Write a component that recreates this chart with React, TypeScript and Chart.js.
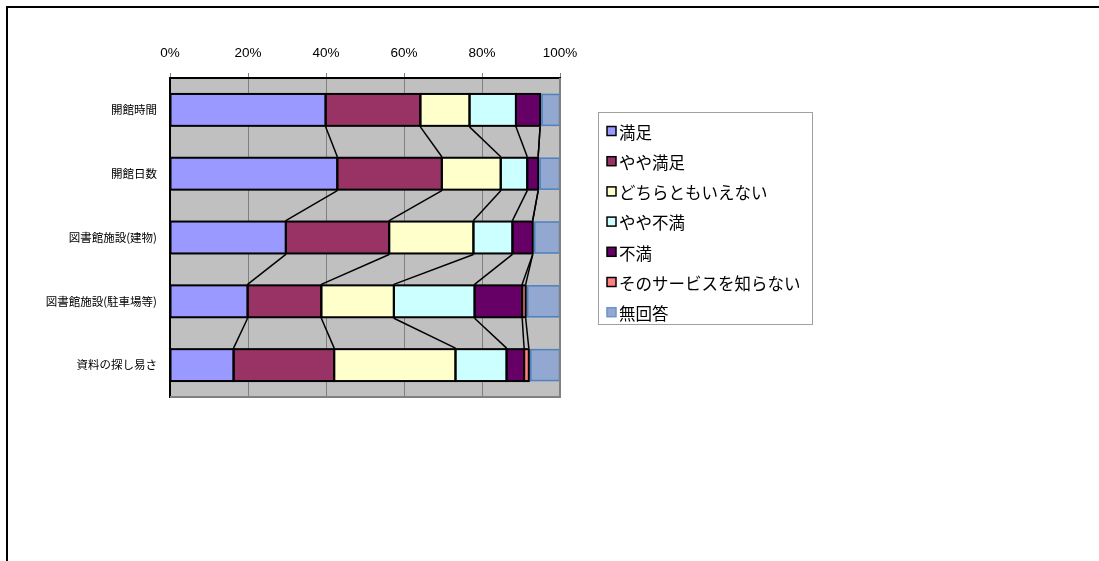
import React, { useEffect, useRef } from "react";
import { Chart, registerables } from "chart.js";

Chart.register(...registerables);

const categories = ["開館時間", "開館日数", "図書館施設(建物)", "図書館施設(駐車場等)", "資料の探し易さ"];
const seriesNames = ["満足", "やや満足", "どちらともいえない", "やや不満", "不満", "そのサービスを知らない", "無回答"];
const manzoku = [39.9, 42.9, 29.7, 19.9, 16.3];
const yayaManzoku = [24.3, 26.8, 26.5, 18.9, 25.8];
const dochira = [12.6, 15.1, 21.6, 18.6, 31.1];
const yayaFuman = [11.9, 6.8, 10.0, 20.7, 13.1];
const fuman = [6.2, 2.8, 5.2, 12.2, 4.5];
const shiranai = [0, 0, 0, 0.9, 1.2];
const mukaitou = [5.1, 5.6, 7.0, 8.8, 8.0];
const tickValues = [0, 20, 40, 60, 80, 100];

const seriesValues = [manzoku, yayaManzoku, dochira, yayaFuman, fuman, shiranai, mukaitou];
const fillColors = ["#9999FF", "#993366", "#FFFFCC", "#CCFFFF", "#660066", "#FF8080", "#93A8D0"];
const strokeColors = ["#000000", "#000000", "#000000", "#000000", "#000000", "#000000", "#4F81BD"];

const jpFont = "'Noto Sans CJK JP', 'Noto Sans', sans-serif";

const decorPlugin = {
  id: "decor",
  beforeDraw(chart: any) {
    const { ctx, chartArea } = chart;
    ctx.save();
    ctx.fillStyle = "#ffffff";
    ctx.fillRect(0, 0, chart.width, chart.height);
    ctx.fillStyle = "#C0C0C0";
    ctx.fillRect(chartArea.left, chartArea.top, chartArea.right - chartArea.left, chartArea.bottom - chartArea.top);
    ctx.restore();
  },
  afterDatasetsDraw(chart: any) {
    const { ctx, chartArea } = chart;
    ctx.save();
    const n = chart.data.datasets.length;
    for (let d = 0; d < n; d++) {
      const meta = chart.getDatasetMeta(d);
      meta.data.forEach((el: any) => {
        const l = Math.min(el.base, el.x);
        const r = Math.max(el.base, el.x);
        if (r - l < 0.01) return;
        const t = el.y - el.height / 2;
        const b = el.y + el.height / 2;
        if (d === n - 1) {
          ctx.strokeStyle = strokeColors[d];
          ctx.lineWidth = 1.5;
          ctx.strokeRect(l + 2, t + 0.5, r - l - 2.5, b - t - 1);
        } else {
          ctx.strokeStyle = strokeColors[d];
          ctx.lineWidth = 2;
          ctx.strokeRect(l, t, r - l, b - t);
        }
      });
    }
    ctx.strokeStyle = "#000000";
    ctx.lineWidth = 1.5;
    for (let d = 0; d < n - 1; d++) {
      const meta = chart.getDatasetMeta(d);
      for (let i = 0; i < meta.data.length - 1; i++) {
        const a = meta.data[i];
        const b = meta.data[i + 1];
        ctx.beginPath();
        ctx.moveTo(a.x, a.y + a.height / 2 + 1);
        ctx.lineTo(b.x, b.y - b.height / 2 - 1);
        ctx.stroke();
      }
    }
    ctx.strokeStyle = "#808080";
    ctx.lineWidth = 2;
    ctx.beginPath();
    ctx.moveTo(chartArea.right, chartArea.top);
    ctx.lineTo(chartArea.right, chartArea.bottom);
    ctx.lineTo(chartArea.left, chartArea.bottom);
    ctx.stroke();
    ctx.restore();
  },
  afterDraw(chart: any) {
    const { ctx } = chart;
    ctx.save();
    ctx.strokeStyle = "#000000";
    ctx.lineWidth = 2;
    ctx.strokeRect(7, 7, 1200, 700);
    ctx.strokeStyle = "#A0A0A0";
    ctx.lineWidth = 1;
    ctx.strokeRect(598.5, 112.5, 214, 212);
    ctx.font = "16.5px " + jpFont;
    ctx.textBaseline = "middle";
    ctx.textAlign = "left";
    seriesNames.forEach((name, i) => {
      const cy = 131.5 + i * 30.2;
      ctx.fillStyle = fillColors[i];
      ctx.fillRect(607, cy - 5, 9, 9);
      ctx.strokeStyle = i === seriesNames.length - 1 ? "#6E94C8" : "#000000";
      ctx.lineWidth = 1.5;
      ctx.strokeRect(607, cy - 5, 9, 9);
      ctx.fillStyle = "#000000";
      ctx.fillText(name, 619, cy + 1);
    });
    ctx.restore();
  },
};

export default function App() {
  const ref = useRef<HTMLCanvasElement | null>(null);
  useEffect(() => {
    if (!ref.current) return;
    const chart = new Chart(ref.current, {
      type: "bar",
      data: {
        labels: categories,
        datasets: seriesValues.map((vals, i) => ({
          label: seriesNames[i],
          data: vals,
          backgroundColor: fillColors[i],
          borderWidth: 0,
          categoryPercentage: 1,
          barPercentage: 0.5,
        })),
      },
      options: {
        indexAxis: "y",
        responsive: false,
        animation: false,
        devicePixelRatio: 1,
        layout: { padding: { left: 0, top: 0, right: 539, bottom: 164 } },
        plugins: { legend: { display: false }, tooltip: { enabled: false } },
        scales: {
          x: {
            stacked: true,
            position: "top",
            min: 0,
            max: 100,
            afterBuildTicks: (scale: any) => {
              scale.ticks = tickValues.map((v) => ({ value: v }));
            },
            afterFit: (scale: any) => {
              scale.height = 78;
            },
            ticks: {
              callback: (v: any) => v + "%",
              color: "#000000",
              padding: 12,
              maxRotation: 0,
              font: { family: "'Liberation Sans', Arial, sans-serif", size: 13.5 },
            },
            grid: { color: "#808080", lineWidth: 1, drawTicks: true, tickLength: 5, tickColor: "#808080" },
            border: { display: true, color: "#000000", width: 2 },
          },
          y: {
            stacked: true,
            afterFit: (scale: any) => {
              scale.width = 170;
            },
            ticks: {
              color: "#000000",
              padding: 13,
              font: { family: jpFont, size: 11.5 },
            },
            grid: { display: false, drawTicks: false, tickLength: 0 },
            border: { display: true, color: "#000000", width: 2 },
          },
        },
      },
      plugins: [decorPlugin],
    } as any);
    return () => chart.destroy();
  }, []);
  return (
    <canvas
      ref={ref}
      width={1099}
      height={561}
      style={{ position: "fixed", left: 0, top: 0, width: 1099, height: 561, display: "block" }}
    />
  );
}
